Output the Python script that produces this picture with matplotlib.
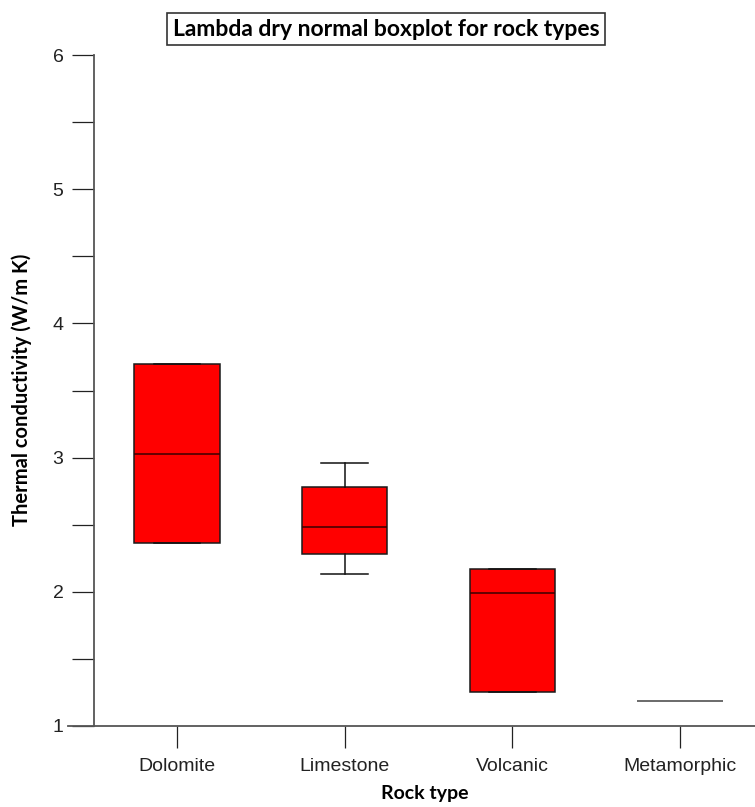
import matplotlib
matplotlib.use("Agg")
import matplotlib.pyplot as plt

# Box statistics per rock type (W/m K)
rock_types = ["Dolomite", "Limestone", "Volcanic", "Metamorphic"]
whisker_low = [2.36, 2.13, 1.25, 1.19]
q1 = [2.36, 2.28, 1.25, 1.19]
median = [3.03, 2.48, 1.99, 1.19]
q3 = [3.70, 2.78, 2.17, 1.19]
whisker_high = [3.70, 2.96, 2.17, 1.19]

y_ticks = [1, 2, 3, 4, 5, 6]

W, H = 755, 807
fig = plt.figure(figsize=(W / 100, H / 100), dpi=100)
ax = fig.add_axes([68 / W, (H - 726) / H, (W - 68) / W, (726 - 55) / H])

stats = []
for name, lo, a, m, b, hi in zip(rock_types, whisker_low, q1, median, q3, whisker_high):
    stats.append(dict(label=name, whislo=lo, q1=a, med=m, q3=b, whishi=hi, fliers=[]))

positions = [1, 2, 3, 4]
parts = ax.bxp(stats, positions=positions, widths=0.51, patch_artist=True, showfliers=False,
               boxprops=dict(facecolor="#ff0000", edgecolor="#1a1a1a", linewidth=1.1),
               medianprops=dict(color="#3a0000", linewidth=1.1),
               whiskerprops=dict(color="#111111", linewidth=1.1),
               capprops=dict(color="#111111", linewidth=1.1),
               capwidths=0.28)

# a box with zero spread collapses into a single grey line
for i in range(len(rock_types)):
    if q1[i] == q3[i]:
        parts["boxes"][i].set_edgecolor("#666666")
        parts["medians"][i].set_color("#666666")
        for c in parts["caps"][2 * i:2 * i + 2]:
            c.set_visible(False)

x0 = 1 - (177 - 68) / 167.7
x1 = 4 + (755 - 680) / 167.7
ax.set_xlim(x0, x1)
ax.set_ylim(1, 6)

ax.spines["top"].set_visible(False)
ax.spines["right"].set_visible(False)
ax.spines["left"].set_position(("data", 1 - (177 - 94) / 167.7))
for s in ("left", "bottom"):
    ax.spines[s].set_color("#555555")
    ax.spines[s].set_linewidth(1.3)

ax.set_yticks(y_ticks)
ax.set_yticks([1.5, 2.5, 3.5, 4.5, 5.5], minor=True)
ax.set_xticks(positions)
ax.set_xticklabels(rock_types)
ax.tick_params(axis="both", which="both", direction="out", length=16, width=0.9,
               color="#222222", labelsize=14, labelcolor="#222222")
ax.tick_params(axis="x", pad=7)
ax.tick_params(axis="y", pad=6)
for lab in ax.get_xticklabels() + ax.get_yticklabels():
    lab.set_family("Liberation Sans")

fig.text(22 / W, 1 - 390 / H, "Thermal conductivity (W/m K)", rotation=90,
         ha="center", va="center", fontsize=14.5, fontweight="bold", family="Lato")
fig.text(425 / W, 1 - 793 / H, "Rock type", ha="center", va="center",
         fontsize=14, fontweight="bold", family="Lato")
fig.text(386 / W, 1 - 29 / H, "Lambda dry normal boxplot for rock types",
         ha="center", va="center", fontsize=16.5, fontweight="bold", family="Lato",
         bbox=dict(boxstyle="square,pad=0.25", facecolor="white", edgecolor="#333333",
                   linewidth=1.2))

fig.savefig("out.png", dpi=100)
